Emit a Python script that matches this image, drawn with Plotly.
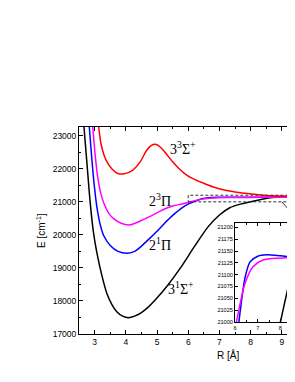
import plotly.graph_objects as go

# --- data ---
r_black = [2.62, 2.66, 2.76, 2.86, 2.96, 3.075, 3.23, 3.39, 3.55, 3.71, 3.9, 4.08, 4.3, 4.5, 4.7, 4.94, 5.35, 5.75, 6.2, 6.64, 7.0, 7.33, 7.67, 8.0, 8.3, 8.57, 8.85, 9.1, 9.45]
e_black = [23800, 23265, 22100, 20961, 20100, 19445, 18780, 18233, 17900, 17676, 17540, 17494, 17550, 17650, 17800, 18030, 18485, 19000, 19650, 20250, 20600, 20820, 20930, 21000, 21065, 21118, 21140, 21147, 21150]

r_blue = [2.80, 2.83, 2.92, 3.0, 3.08, 3.17, 3.29, 3.5, 3.75, 4.05, 4.3, 4.5, 4.75, 4.99, 5.25, 5.52, 5.8, 6.06, 6.18, 6.44, 6.66, 7.0, 7.4, 8.0, 8.64, 9.45]
e_blue = [23620, 23265, 22200, 21400, 20800, 20350, 19980, 19680, 19500, 19445, 19510, 19660, 19880, 20100, 20360, 20606, 20820, 20960, 21005, 21094, 21127, 21139, 21142, 21140, 21137, 21135]

r_mag = [2.91, 2.94, 3.02, 3.1, 3.2, 3.3, 3.45, 3.6, 3.85, 4.14, 4.46, 4.78, 5.1, 5.52, 5.8, 6.1, 6.44, 6.79, 7.23, 7.98, 8.64, 9.45]
e_mag = [23590, 23265, 22400, 21750, 21250, 20950, 20660, 20500, 20350, 20303, 20420, 20560, 20720, 20880, 20935, 21010, 21082, 21117, 21131, 21135, 21136, 21137]

r_red = [3.11, 3.13, 3.2, 3.3, 3.42, 3.55, 3.67, 3.77, 3.95, 4.1, 4.24, 4.46, 4.67, 4.82, 4.95, 5.1, 5.3, 5.5, 5.7, 5.95, 6.2, 6.45, 6.8, 7.12, 7.5, 7.97, 8.5, 9.0, 9.45]
e_red = [23420, 23265, 22780, 22420, 22170, 22000, 21900, 21850, 21850, 21890, 21970, 22210, 22560, 22710, 22740, 22660, 22450, 22210, 22010, 21810, 21680, 21580, 21450, 21364, 21300, 21242, 21195, 21175, 21165]

series = [
    ("3¹Σ⁺", r_black, e_black, "#000000"),
    ("2¹Π", r_blue, e_blue, "#0000ff"),
    ("2³Π", r_mag, e_mag, "#ff00ff"),
    ("3³Σ⁺", r_red, e_red, "#ff0000"),
]

x_ticks = [3, 4, 5, 6, 7, 8, 9]
y_ticks = [17000, 18000, 19000, 20000, 21000, 22000, 23000]
inset_x_ticks = [6, 7, 8]
inset_y_ticks = [21000, 21025, 21050, 21075, 21100, 21125, 21150, 21175, 21200]

fig = go.Figure()
for axx, axy in (("x", "y"), ("x2", "y2")):
    for name, r, e, c in series:
        fig.add_trace(go.Scatter(x=r, y=e, mode="lines", name=name,
                                 line=dict(color=c, width=1.5, shape="spline", smoothing=0.8),
                                 xaxis=axx, yaxis=axy, showlegend=False, hoverinfo="skip"))

tickfont = dict(family="Liberation Sans, Arial, sans-serif", size=8.5, color="black")
small = dict(family="Liberation Sans, Arial, sans-serif", size=5.6, color="black")

# The page body adds an 8px offset; the figure is sized so the plot area
# lands at x 79..295, y 127..334 of the window.
fig.update_layout(
    width=287, height=374, autosize=False,
    margin=dict(l=71, r=0, t=119, b=48),
    paper_bgcolor="white", plot_bgcolor="white",
    xaxis=dict(range=[2.5, 9.42], tickvals=x_ticks, ticktext=[str(v) for v in x_ticks],
               ticks="inside", ticklen=4,
               tickcolor="black", showline=True, linecolor="black", linewidth=1,
               mirror="allticks", showgrid=False, zeroline=False, tickfont=tickfont,
               minor=dict(dtick=0.5, tick0=0, ticks="inside", ticklen=2, tickcolor="black")),
    yaxis=dict(range=[17000, 23265], tickvals=y_ticks, ticktext=[str(v) for v in y_ticks],
               ticks="inside", ticklen=4,
               tickcolor="black", showline=True, linecolor="black", linewidth=1,
               mirror=False, showgrid=False, zeroline=False, tickfont=tickfont,
               minor=dict(dtick=500, tick0=0, ticks="inside", ticklen=2, tickcolor="black")),
    xaxis2=dict(domain=[0.7226, 1.0], anchor="y2", range=[6, 8.643], tickvals=inset_x_ticks,
                ticktext=[str(v) for v in inset_x_ticks],
                ticks="inside", ticklen=2.5, tickcolor="black", showline=True, linecolor="black",
                linewidth=1, mirror="allticks", showgrid=False, zeroline=False, tickfont=small,
                minor=dict(dtick=0.5, tick0=0, ticks="inside", ticklen=1.5, tickcolor="black")),
    yaxis2=dict(domain=[0.058, 0.5356], anchor="x2", range=[21000, 21209], tickvals=inset_y_ticks,
                ticktext=[str(v) for v in inset_y_ticks],
                ticks="inside", ticklen=2.5, tickcolor="black", showline=True, linecolor="black",
                linewidth=1, mirror="allticks", showgrid=False, zeroline=False, tickfont=small),
)

# dashed zoom rectangle and connector
fig.add_shape(type="rect", xref="x", yref="y", x0=6, x1=9.9, y0=21000, y1=21200,
              line=dict(color="#333333", width=1, dash="3px,2px"))
fig.add_shape(type="line", xref="x", yref="y", x0=9.0, y0=21000, x1=9.9, y1=20025,
              line=dict(color="#333333", width=1))

serif = dict(family="Liberation Serif, Times New Roman, serif", size=14, color="black")
labels = [
    ("3<sup>3</sup>Σ<sup>+</sup>", 5.82, 22636),
    ("2<sup>3</sup>Π", 5.10, 21060),
    ("2<sup>1</sup>Π", 5.10, 19727),
    ("3<sup>1</sup>Σ<sup>+</sup>", 5.77, 18394),
]
for txt, x, y in labels:
    fig.add_annotation(text=txt, x=x, y=y, xref="x", yref="y", showarrow=False,
                       font=serif, xanchor="center", yanchor="middle")

axfont = dict(family="Liberation Sans, Arial, sans-serif", size=10, color="black")
fig.add_annotation(text="R [Å]", xref="paper", yref="paper", x=(228 - 79) / 216, y=-(355 - 334) / 207,
                   showarrow=False, font=axfont, xanchor="center", yanchor="middle")
fig.add_annotation(text="E [cm<sup>-1</sup>]", xref="paper", yref="paper", x=-(79 - 40.5) / 216, y=0.5,
                   showarrow=False, font=axfont, textangle=-90, xanchor="center", yanchor="middle")

fig.write_html("out.html")
